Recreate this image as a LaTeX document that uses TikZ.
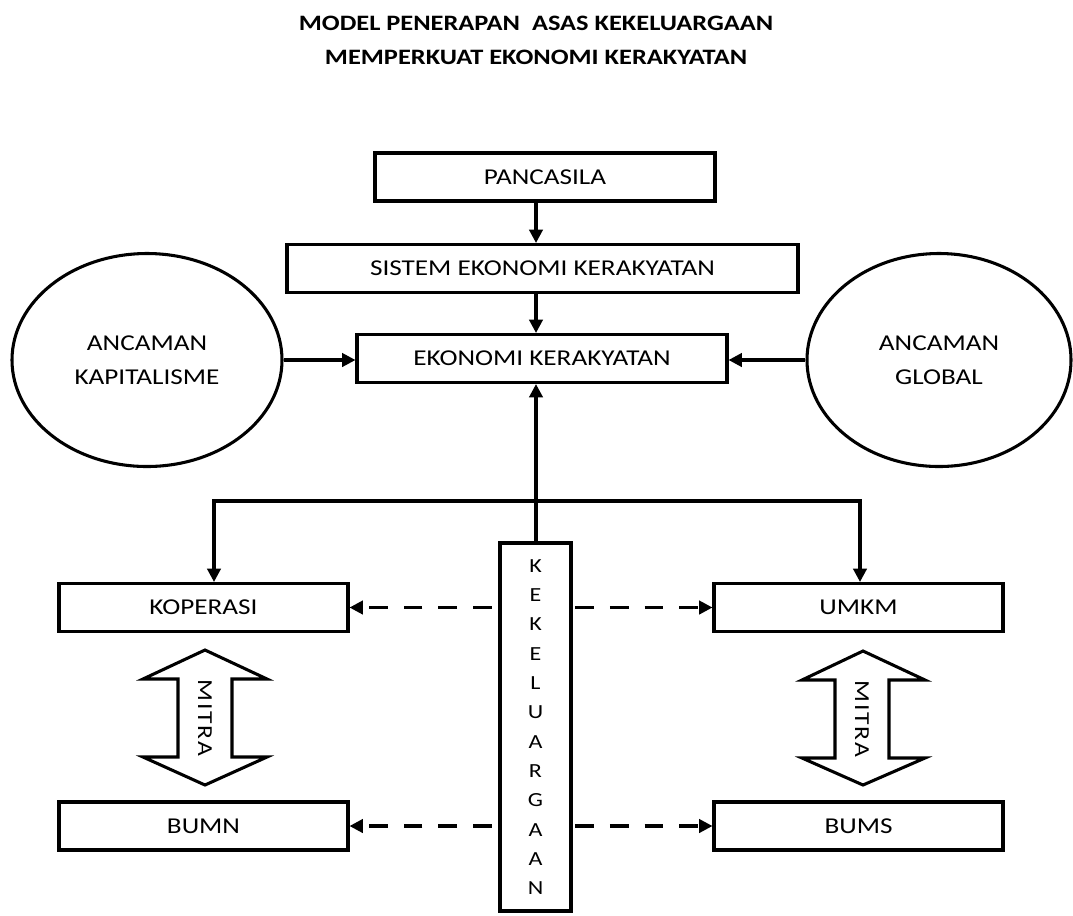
\documentclass[tikz,border=0pt]{standalone}
\usepackage{fontspec}
\setmainfont{Carlito}[FakeStretch=1.2]
\newfontfamily\spacedfont{Carlito}[FakeStretch=1.2,LetterSpace=8]
\usetikzlibrary{arrows.meta,shapes.geometric}
\newdimen\pxu \pxu=0.75pt
\newcommand\dfont{\fontsize{17}{25.5}\selectfont}
\begin{document}
\begin{tikzpicture}[x=0.75pt,y=-0.75pt,
  box/.style={draw,line width=2.3pt,minimum width=#1,minimum height=48\pxu,inner sep=0pt,font=\dfont},
  ell/.style={draw,ellipse,line width=2.3pt,minimum width=#1,minimum height=213\pxu,inner sep=0pt,align=center,font=\dfont},
  arr/.style={line width=2.3pt,-{Triangle[length=10pt,width=10pt]}},
  darr/.style={arr,dash pattern=on 14pt off 12pt},
  mitra/.style={draw,line width=2.3pt,line join=miter},
  vtext/.style={rotate=-90,font=\spacedfont\fontsize{16}{20}\selectfont,inner sep=0pt}]
\useasboundingbox (0,0) rectangle (1073,915);

\node[align=center,font=\bfseries\fontsize{16.5}{25.5}\selectfont] (title) at (536,40)
  {MODEL PENERAPAN\ \ ASAS KEKELUARGAAN\\MEMPERKUAT EKONOMI KERAKYATAN};

\node[box=340\pxu] (pancasila) at (545,177) {PANCASILA};
\node[box=511\pxu] (sistem) at (542.5,268.5) {SISTEM EKONOMI KERAKYATAN};
\node[box=370\pxu] (ek) at (542,358.5) {EKONOMI KERAKYATAN};

\node[ell=270\pxu] (kap) at (147,360) {ANCAMAN\\KAPITALISME};
\node[ell=264\pxu] (glob) at (939,360) {ANCAMAN\\GLOBAL};

\node[box=289\pxu] (kop) at (203.5,607.5) {KOPERASI};
\node[box=289\pxu] (umkm) at (858.5,607.5) {UMKM};
\node[box=289\pxu] (bumn) at (203.5,826) {BUMN};
\node[box=289\pxu] (bums) at (858.5,826) {BUMS};

\node[draw,line width=2.3pt,minimum width=71\pxu,minimum height=368\pxu,inner sep=0pt,
      align=center,font=\fontsize{15}{22}\selectfont] (kek) at (535.5,727)
  {K\\E\\K\\E\\L\\U\\A\\R\\G\\A\\A\\N};

\coordinate (ax) at (536,0);
\coordinate (kx) at (214,0);
\coordinate (ux) at (860,0);
\coordinate (j) at (536,501);

\draw[arr] (pancasila.south -| ax) -- (sistem.north -| ax);
\draw[arr] (sistem.south -| ax) -- (ek.north -| ax);
\draw[arr] (kap.east) -- (ek.west |- kap.east);
\draw[arr] (glob.west) -- (ek.east |- glob.west);
\draw[arr] (kek.north -| ax) -- (ek.south -| ax);
\draw[arr] (j) -| (kop.north -| kx);
\draw[arr] (j) -| (umkm.north -| ux);

\draw[darr,dash phase=-5pt] (kek.west |- kop.east) -- (kop.east);
\draw[darr,dash phase=-2pt] (kek.east |- umkm.west) -- (umkm.west);
\draw[darr,dash phase=-5pt] (kek.west |- bumn.east) -- (bumn.east);
\draw[darr,dash phase=-2pt] (kek.east |- bums.west) -- (bums.west);

% MITRA double arrows
\draw[mitra] (205,650) -- (143,679) -- (178,679) -- (178,757) -- (143,757) -- (205,785)
  -- (267,757) -- (232,757) -- (232,679) -- (267,679) -- cycle;
\node[vtext] (mitraL) at (205,718) {MITRA};
\draw[mitra] (863,651) -- (802,680) -- (835,680) -- (835,758) -- (802,758) -- (863,785)
  -- (925,758) -- (889,758) -- (889,680) -- (925,680) -- cycle;
\node[vtext] (mitraR) at (862,719) {MITRA};
\end{tikzpicture}
\end{document}
